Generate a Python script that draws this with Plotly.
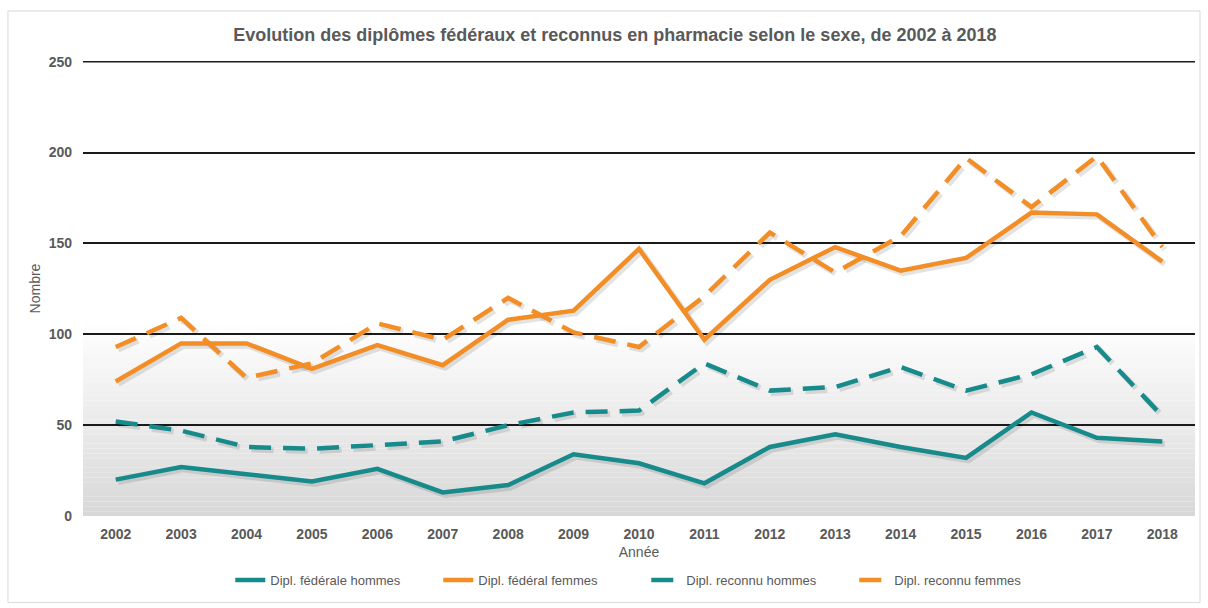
import plotly.graph_objects as go

years = [str(y) for y in range(2002, 2019)]
fed_hommes = [20, 27, 23, 19, 26, 13, 17, 34, 29, 18, 38, 45, 38, 32, 57, 43, 41]
fed_femmes = [74, 95, 95, 81, 94, 83, 108, 113, 147, 97, 130, 148, 135, 142, 167, 166, 140]
rec_hommes = [52, 47, 38, 37, 39, 41, 50, 57, 58, 84, 69, 71, 82, 69, 78, 93, 55]
rec_femmes = [93, 109, 76, 84, 106, 97, 120, 101, 93, 121, 156, 134, 154, 197, 170, 198, 148]

names = ["Dipl. fédérale hommes", "Dipl. fédéral femmes", "Dipl. reconnu hommes", "Dipl. reconnu femmes"]
TEAL = "#178B8B"
ORANGE = "#F28E25"
GRAY = "#595959"
FONT = "Liberation Sans, Arial, sans-serif"

YMAX = 250.4
XR = [-0.5, 16.5]
dx = 2.5 / 65.4   # shadow offset (category units)
dy = 2.5 / 1.82   # shadow offset (value units)

fig = go.Figure()

# gradient background in the lower part of the plot area
top_val = 106
n = 40
for i in range(n):
    y0 = top_val * i / n
    y1 = top_val * (i + 1) / n
    t = (i + 0.5) / n  # 0 at bottom, 1 at top
    c = int(216 + (255 - 216) * t)
    fig.add_shape(type="rect", xref="x domain", yref="y", x0=0, x1=1, y0=y0, y1=y1,
                  fillcolor=f"rgb({c},{c},{c})", line_width=0, layer="below")

# top gridline at 250
fig.add_shape(type="line", xref="x domain", yref="y", x0=0, x1=1, y0=250, y1=250,
              line=dict(color="#1a1a1a", width=1.5), layer="below")

series = [
    (fed_hommes, TEAL, "solid"),
    (fed_femmes, ORANGE, "solid"),
    (rec_hommes, TEAL, "22px,12px"),
    (rec_femmes, ORANGE, "22px,12px"),
]
# soft shadows
for (vals, col, dash), name in zip(series, names):
    fig.add_trace(go.Scatter(x=years, y=vals, name=name, mode="lines", showlegend=False,
                             hoverinfo="skip", xaxis="x2", yaxis="y2",
                             line=dict(color="rgba(0,0,0,0.11)", width=6, dash=dash)))
for (vals, col, dash), name in zip(series, names):
    fig.add_trace(go.Scatter(x=years, y=vals, name=name, mode="lines", xaxis="x3", yaxis="y3",
                             line=dict(color=col, width=4.5, dash=dash)))

# outer border
fig.add_shape(type="rect", xref="paper", yref="paper", x0=-0.0675, x1=1.0045, y0=-0.19, y1=1.11,
              line=dict(color="#d9d9d9", width=1), fillcolor="rgba(0,0,0,0)")

fig.update_layout(
    width=1208, height=608,
    margin=dict(l=83, r=13, t=61, b=92),
    paper_bgcolor="white", plot_bgcolor="rgba(0,0,0,0)",
    font=dict(family=FONT, color=GRAY, size=13),
    title=dict(text="<b>Evolution des diplômes fédéraux et reconnus en pharmacie selon le sexe, de 2002 à 2018</b>",
               x=0.509, xanchor="center", y=0.943, yanchor="middle",
               font=dict(family=FONT, size=18, color=GRAY)),
    showlegend=True,
    legend=dict(orientation="h", xref="container", x=0.535, xanchor="center",
                yref="container", y=0.046, yanchor="middle",
                font=dict(family=FONT, size=13, color=GRAY),
                itemwidth=30, tracegroupgap=0, entrywidth=163, entrywidthmode="pixels"),
    xaxis=dict(type="category", categoryarray=years, range=XR, showgrid=False, zeroline=False,
               showline=False, ticks="", ticklabelstandoff=8, automargin=False,
               tickfont=dict(family=FONT, size=14, color=GRAY, weight="bold"),
               title=dict(text="Année", font=dict(family=FONT, size=14, color=GRAY), standoff=6)),
    yaxis=dict(range=[0, YMAX], tickvals=[0, 50, 100, 150, 200, 250], showgrid=True,
               gridcolor="#1a1a1a", gridwidth=1.5, ticklabelstandoff=10, automargin=False,
               zeroline=False, showline=False, ticks="",
               tickfont=dict(family=FONT, size=14, color=GRAY, weight="bold"),
               title=dict(text="Nombre", font=dict(family=FONT, size=14, color=GRAY), standoff=4)),
    xaxis2=dict(type="category", categoryarray=years, overlaying="x", range=[XR[0] - dx, XR[1] - dx],
                visible=False),
    yaxis2=dict(overlaying="y", range=[dy, YMAX + dy], visible=False),
    xaxis3=dict(type="category", categoryarray=years, overlaying="x", range=XR, visible=False),
    yaxis3=dict(overlaying="y", range=[0, YMAX], visible=False),
)

fig.write_html("out.html", config={"displayModeBar": False})
with open("out.html", encoding="utf-8") as f:
    html = f.read()
html = html.replace("<head>", "<head><style>html,body{margin:0;padding:0;overflow:hidden;}</style>", 1)
with open("out.html", "w", encoding="utf-8") as f:
    f.write(html)
